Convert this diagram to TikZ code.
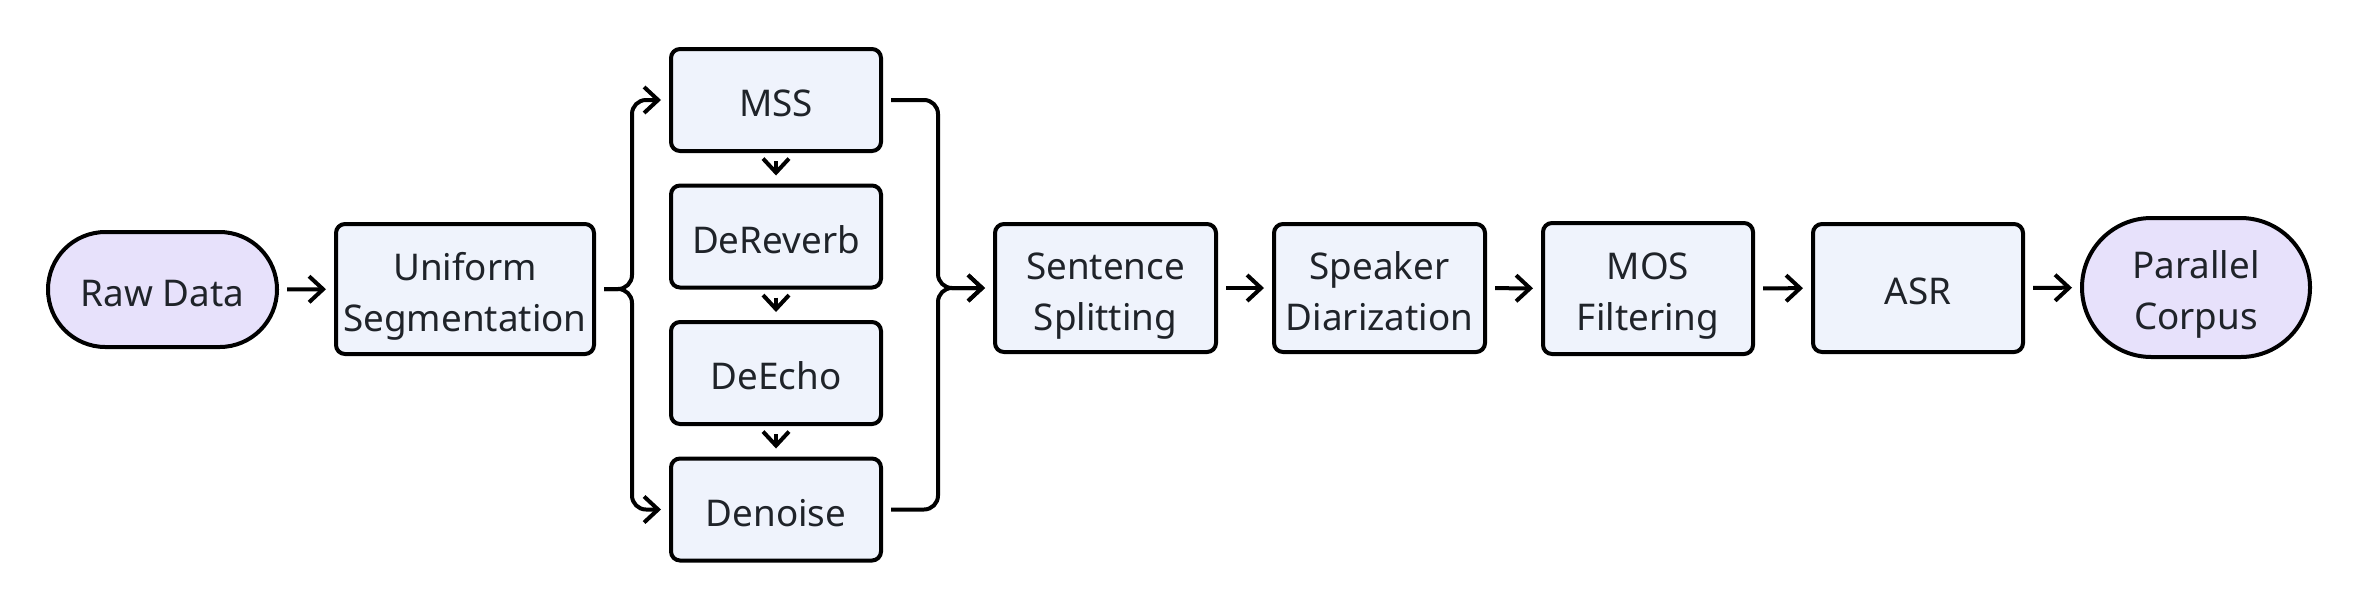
\documentclass[tikz,border=0pt]{standalone}
\usepackage{fontspec}
\setmainfont{Noto Sans}
\usetikzlibrary{arrows.meta,calc}
\definecolor{boxfill}{HTML}{EFF3FC}
\definecolor{termfill}{HTML}{E7E1FB}
\definecolor{txt}{HTML}{1F2329}
\newcommand{\lbl}[1]{\raisebox{-3.2pt}[\height][\depth]{\begin{tabular}{@{}c@{}}#1\end{tabular}}}
\tikzset{
  base/.style={draw=black, line width=2pt, text=txt,
    font=\fontsize{18.4pt}{25.5pt}\selectfont, inner sep=0pt},
  stepbox/.style={base, fill=boxfill, rectangle, rounded corners=4.5pt},
  termbox/.style={base, fill=termfill, rectangle},
  conn/.style={line width=2pt, -{Straight Barb[length=7pt,width=13pt]},
    shorten <=4pt, shorten >=4pt, rounded corners=7pt},
}
\begin{document}
\begin{tikzpicture}[x=0.5pt,y=-0.5pt]
\useasboundingbox[fill=white] (0,0) rectangle (2360,612);
% terminals
\node[termbox, minimum width=114.5pt, minimum height=57.5pt, rounded corners=28.7pt] (raw) at (162.5,289.5) {\lbl{Raw Data}};
\node[termbox, minimum width=114pt, minimum height=69.5pt, rounded corners=34.7pt] (par) at (2196,287.5) {\lbl{Parallel\\Corpus}};
% steps
\node[stepbox, minimum width=129pt, minimum height=65pt] (uni) at (465,289) {\lbl{Uniform\\Segmentation}};
\node[stepbox, minimum width=105pt, minimum height=51pt] (mss) at (776,100) {\lbl{MSS}};
\node[stepbox, minimum width=105pt, minimum height=51pt] (derev) at (776,236.5) {\lbl{DeReverb}};
\node[stepbox, minimum width=105pt, minimum height=51pt] (deecho) at (776,373) {\lbl{DeEcho}};
\node[stepbox, minimum width=105pt, minimum height=51pt] (denoise) at (776,509.5) {\lbl{Denoise}};
\node[stepbox, minimum width=110.5pt, minimum height=64pt] (sent) at (1105.5,288) {\lbl{Sentence\\Splitting}};
\node[stepbox, minimum width=105.5pt, minimum height=64pt] (spk) at (1379.5,288) {\lbl{Speaker\\Diarization}};
\node[stepbox, minimum width=105pt, minimum height=65.5pt] (mos) at (1648,288.5) {\lbl{MOS\\Filtering}};
\node[stepbox, minimum width=105pt, minimum height=64pt] (asr) at (1918,288) {\lbl{ASR}};
% junctions
\coordinate (bl) at (632,289);
\coordinate (br) at (938,288);
% connectors
\draw[conn] (raw) -- (uni);
\draw[conn] (uni.east) -- (bl) |- (mss.west);
\draw[conn] (uni.east) -- (bl) |- (denoise.west);
\draw[conn] (mss) -- (derev);
\draw[conn] (derev) -- (deecho);
\draw[conn] (deecho) -- (denoise);
\draw[conn] (mss.east) -| (br) -- (sent.west);
\draw[conn] (denoise.east) -| (br) -- (sent.west);
\draw[conn] (sent) -- (spk);
\draw[conn] (spk) -- (mos);
\draw[conn] (mos) -- (asr);
\draw[conn] (asr) -- (par);
\end{tikzpicture}
\end{document}
